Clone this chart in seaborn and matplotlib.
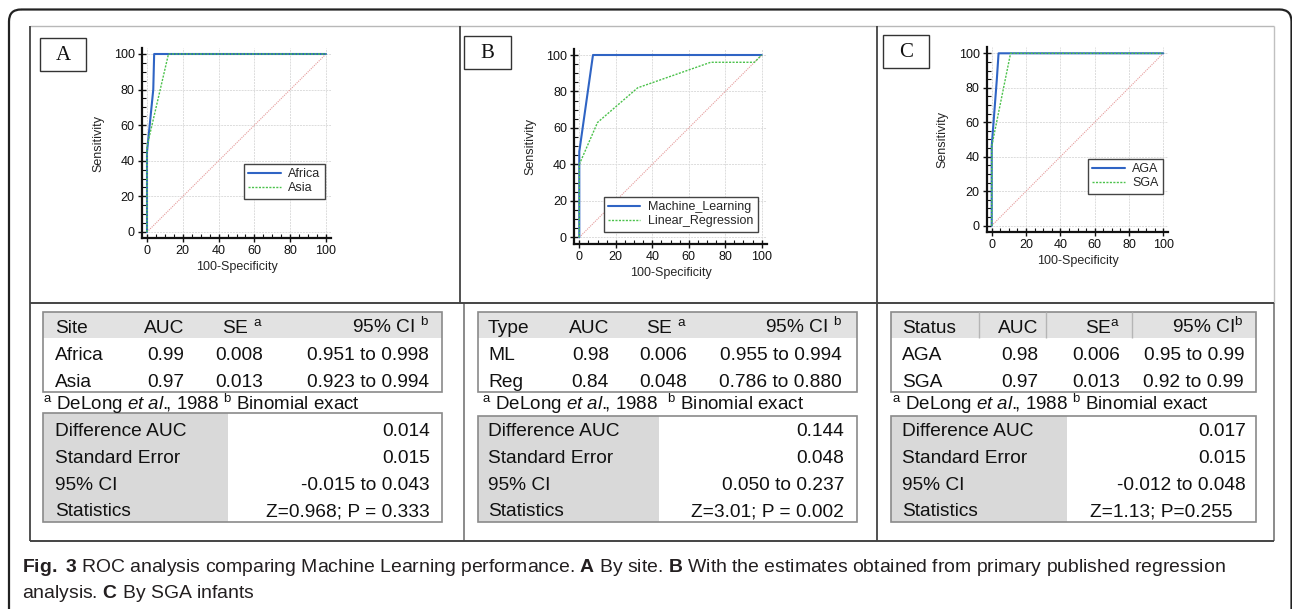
import numpy as np
import pandas as pd
import matplotlib
matplotlib.use("Agg")
import matplotlib.pyplot as plt
from matplotlib.patches import Rectangle, FancyBboxPatch
from matplotlib.ticker import MultipleLocator
import seaborn as sns

sns.set_style("ticks")
plt.rcParams['font.family'] = ['Liberation Sans', 'DejaVu Sans']
plt.rcParams['mathtext.fontset'] = 'custom'
plt.rcParams['mathtext.rm'] = 'Liberation Sans'
plt.rcParams['mathtext.it'] = 'Liberation Sans:italic'
plt.rcParams['mathtext.bf'] = 'Liberation Sans:bold'

W, H = 1292, 609

# ---- ROC data ----
panel_letters = ["A", "B", "C"]
legend_names = [["Africa", "Asia"],
                ["Machine_Learning", "Linear_Regression"],
                ["AGA", "SGA"]]

africa_fpr = [0, 0, 3.5, 4, 100]
africa_tpr = [0, 45, 80, 100, 100]
asia_fpr = [0, 0, 12, 100]
asia_tpr = [0, 48, 100, 100]

ml_fpr = [0, 0, 7.5, 100]
ml_tpr = [0, 47, 100, 100]
lr_fpr = [0, 0, 10, 32, 72, 96, 100]
lr_tpr = [0, 40, 63, 82, 96, 96, 100]

aga_fpr = [0, 0, 3, 4, 100]
aga_tpr = [0, 46, 85, 100, 100]
sga_fpr = [0, 0, 11, 100]
sga_tpr = [0, 46, 100, 100]

diag = [0, 100]

# ---- table data ----
heads_a = ["Site", "AUC", "SE $^{\\rm a}$", "95% CI $^{\\rm b}$"]
heads_b = ["Type", "AUC", "SE $^{\\rm a}$", "95% CI $^{\\rm b}$"]
heads_c = ["Status", "AUC", "SE$^{\\rm a}$", "95% CI$^{\\rm b}$"]
rows_a = [["Africa", "0.99", "0.008", "0.951 to 0.998"],
          ["Asia", "0.97", "0.013", "0.923 to 0.994"]]
rows_b = [["ML", "0.98", "0.006", "0.955 to 0.994"],
          ["Reg", "0.84", "0.048", "0.786 to 0.880"]]
rows_c = [["AGA", "0.98", "0.006", "0.95 to 0.99"],
          ["SGA", "0.97", "0.013", "0.92 to 0.99"]]
foot_a = "$^{\\rm a}$ DeLong $\\mathit{et\\ al.}\\!\\!$, 1988 $^{\\rm b}$ Binomial exact"
foot_b = "$^{\\rm a}$ DeLong $\\mathit{et\\ al.}\\!\\!$, 1988  $^{\\rm b}$ Binomial exact"
foot_c = foot_a
diff_labels = ["Difference AUC", "Standard Error", "95% CI", "Statistics"]
diff_a = ["0.014", "0.015", "-0.015 to 0.043", "Z=0.968; P = 0.333"]
diff_b = ["0.144", "0.048", "0.050 to 0.237", "Z=3.01; P = 0.002"]
diff_c = ["0.017", "0.015", "-0.012 to 0.048", "Z=1.13; P=0.255"]

caption1 = ("$\\mathbf{Fig.}$ $\\mathbf{3}$ ROC analysis comparing Machine Learning performance. "
            "$\\mathbf{A}$ By site. $\\mathbf{B}$ With the estimates obtained from primary "
            "published regression")
caption2 = "analysis. $\\mathbf{C}$ By SGA infants"

BLUE = "#2f64c4"
GREEN = "#4cc24c"
PINK = "#e59a9a"
TXT = "#111111"

fig = plt.figure(figsize=(W / 100, H / 100), dpi=100)
fig.patch.set_facecolor("white")

# overlay axes in pixel units (y down)
ov = fig.add_axes([0, 0, 1, 1], zorder=0)
ov.set_xlim(0, W)
ov.set_ylim(H, 0)
ov.axis("off")


def px(x, y):
    return (x / W, 1 - y / H)


def hline(y, x0, x1, c, lw=1.2):
    ov.plot([x0, x1], [y, y], color=c, lw=lw, solid_capstyle="butt")


def vline(x, y0, y1, c, lw=1.2):
    ov.plot([x, x], [y0, y1], color=c, lw=lw, solid_capstyle="butt")


# outer rounded frame
ov.add_patch(FancyBboxPatch((9, 9.5), 1282.5, 640, boxstyle="round,pad=0,rounding_size=12",
                            fill=False, ec="#222222", lw=1.6))

# panel frames
hline(26, 30, 1274, "#b8b8b8", 1.0)
vline(30, 26, 540.5, "#333333")
vline(459.7, 26, 303, "#333333")
vline(463.7, 303, 540.5, "#777777")
vline(876.7, 26, 540.5, "#333333")
vline(1274, 26, 303, "#c0c0c0", 1.0)
vline(1274, 303, 540.5, "#777777")
hline(303.3, 30, 1274, "#444444", 1.4)
hline(540.5, 30, 1274, "#444444", 1.4)

# panel letter boxes
letter_boxes = [(40, 38, 46, 33), (464, 36, 47, 33), (883, 35, 46, 33)]
for (bx, by, bw, bh), letter in zip(letter_boxes, panel_letters):
    ov.add_patch(Rectangle((bx, by), bw, bh, fill=False, ec="#333333", lw=1.0))
    ov.text(bx + bw / 2, by + bh / 2 + 1, letter, ha="center", va="center",
            fontsize=15, family="Liberation Serif", color=TXT)


def roc_axes(x0, x100, y0, y100):
    sx = (x100 - x0) / 100
    sy = (y0 - y100) / 100
    left, right = x0 - 3 * sx, x100 + 3 * sx
    top, bottom = y100 - 3.5 * sy, y0 + 3.5 * sy
    ax = fig.add_axes([left / W, 1 - bottom / H, (right - left) / W, (bottom - top) / H], zorder=2)
    ax.set_facecolor("none")
    ax.set_xlim(-3, 103)
    ax.set_ylim(-3.5, 103.5)
    return ax


roc_pos = [(147, 326, 232, 54), (579.3, 761.7, 237.3, 55), (991.7, 1163.3, 225.7, 53.3)]
curves = [((africa_fpr, africa_tpr), (asia_fpr, asia_tpr)),
          ((ml_fpr, ml_tpr), (lr_fpr, lr_tpr)),
          ((aga_fpr, aga_tpr), (sga_fpr, sga_tpr))]
legend_anchor = [(325, 164), (757.7, 197), (1163, 159)]

for pos, (c1, c2), names, anc in zip(roc_pos, curves, legend_names, legend_anchor):
    ax = roc_axes(*pos)
    sns.lineplot(x=diag, y=diag, ax=ax, color=PINK, lw=0.8, linestyle=(0, (1, 1)))
    sns.lineplot(x=c1[0], y=c1[1], sort=False, estimator=None, ax=ax,
                 color=BLUE, lw=1.5, label=names[0])
    sns.lineplot(x=c2[0], y=c2[1], sort=False, estimator=None, ax=ax,
                 color=GREEN, lw=1.0, linestyle=(0, (1.5, 1)), label=names[1])
    ax.xaxis.set_major_locator(MultipleLocator(20))
    ax.yaxis.set_major_locator(MultipleLocator(20))
    ax.xaxis.set_minor_locator(MultipleLocator(5))
    ax.yaxis.set_minor_locator(MultipleLocator(5))
    ax.grid(True, which="major", color="#dcdcdc", lw=0.7, ls=(0, (2, 1)))
    ax.set_axisbelow(True)
    for s in ["top", "right"]:
        ax.spines[s].set_visible(False)
    for s in ["left", "bottom"]:
        ax.spines[s].set_linewidth(1.6)
        ax.spines[s].set_color("#111111")
    ax.tick_params(which="major", direction="inout", length=6, width=1, labelsize=9,
                   colors="#111111", pad=2)
    ax.tick_params(which="minor", direction="in", length=3, width=0.8, colors="#111111")
    ax.set_xlabel("100-Specificity", fontsize=9, labelpad=3)
    ax.set_ylabel("Sensitivity", fontsize=9, labelpad=7)
    leg = ax.legend(loc="upper right", bbox_to_anchor=px(*anc), bbox_transform=fig.transFigure,
                    frameon=True, fancybox=False, edgecolor="#444444", fontsize=9,
                    handlelength=2.6, borderaxespad=0, borderpad=0.35, labelspacing=0.15,
                    handletextpad=0.6, framealpha=1)
    leg.get_frame().set_linewidth(1.0)

# ---- tables ----
HEAD_GRAY = "#e2e2e2"
LEFT_GRAY = "#d9d9d9"
BOX_EC = "#8a8a8a"
FS = 13.8

table_cfg = [
    dict(box=(43, 442), cols=(55, 184, 263, 429), foot_x=43, low_top=413, shade=228,
         diff_right=[430, 430, 430, 430]),
    dict(box=(478, 857), cols=(488, 609, 687, 842), foot_x=482, low_top=416, shade=659,
         diff_right=[844, 844, 844, 844]),
    dict(box=(891, 1256), cols=(902, 1038, 1120, 1244), foot_x=892, low_top=416, shade=1067,
         diff_right=[1246, 1246, 1246, 1233]),
]
all_heads = [heads_a, heads_b, heads_c]
all_rows = [rows_a, rows_b, rows_c]
all_foot = [foot_a, foot_b, foot_c]
all_diff = [diff_a, diff_b, diff_c]

row_base = [333, 360, 386.7]
diff_base = [436.5, 463, 489.7, 516.2]

for i, cfg in enumerate(table_cfg):
    l, r = cfg["box"]
    ov.add_patch(Rectangle((l, 312), r - l, 26, fc=HEAD_GRAY, ec="none"))
    ov.add_patch(Rectangle((l, 312), r - l, 80, fill=False, ec=BOX_EC, lw=1.2))
    if i == 2:
        for sx in (979, 1046, 1132):
            vline(sx, 312, 338, "#b5b5b5", 1.0)
    lines = [all_heads[i]] + all_rows[i]
    for yb, cells in zip(row_base, lines):
        for j, cell in enumerate(cells):
            ov.text(cfg["cols"][j], yb, cell, ha="left" if j == 0 else "right",
                    va="baseline", fontsize=FS, color=TXT)
    ov.text(cfg["foot_x"], 410, all_foot[i], ha="left", va="baseline", fontsize=FS - 0.3, color=TXT)

    t = cfg["low_top"]
    ov.add_patch(Rectangle((l, t), cfg["shade"] - l, 522 - t, fc=LEFT_GRAY, ec="none"))
    ov.add_patch(Rectangle((l, t), r - l, 522 - t, fill=False, ec=BOX_EC, lw=1.2))
    for yb, lab, val, xr in zip(diff_base, diff_labels, all_diff[i], cfg["diff_right"]):
        ov.text(cfg["cols"][0], yb, lab, ha="left", va="baseline", fontsize=FS, color=TXT)
        ov.text(xr, yb, val, ha="right", va="baseline", fontsize=FS, color=TXT)

# ---- caption ----
cap1 = ov.text(22, 572, caption1, ha="left", va="baseline", fontsize=13, color="#231f20")
cap2 = ov.text(22, 598, caption2, ha="left", va="baseline", fontsize=13, color="#231f20")
fig.canvas.draw()
w = cap1.get_window_extent().width
fs = 13 * 1200 / w
cap1.set_fontsize(fs)
cap2.set_fontsize(fs)

fig.savefig("out.png", dpi=100, facecolor="white")
